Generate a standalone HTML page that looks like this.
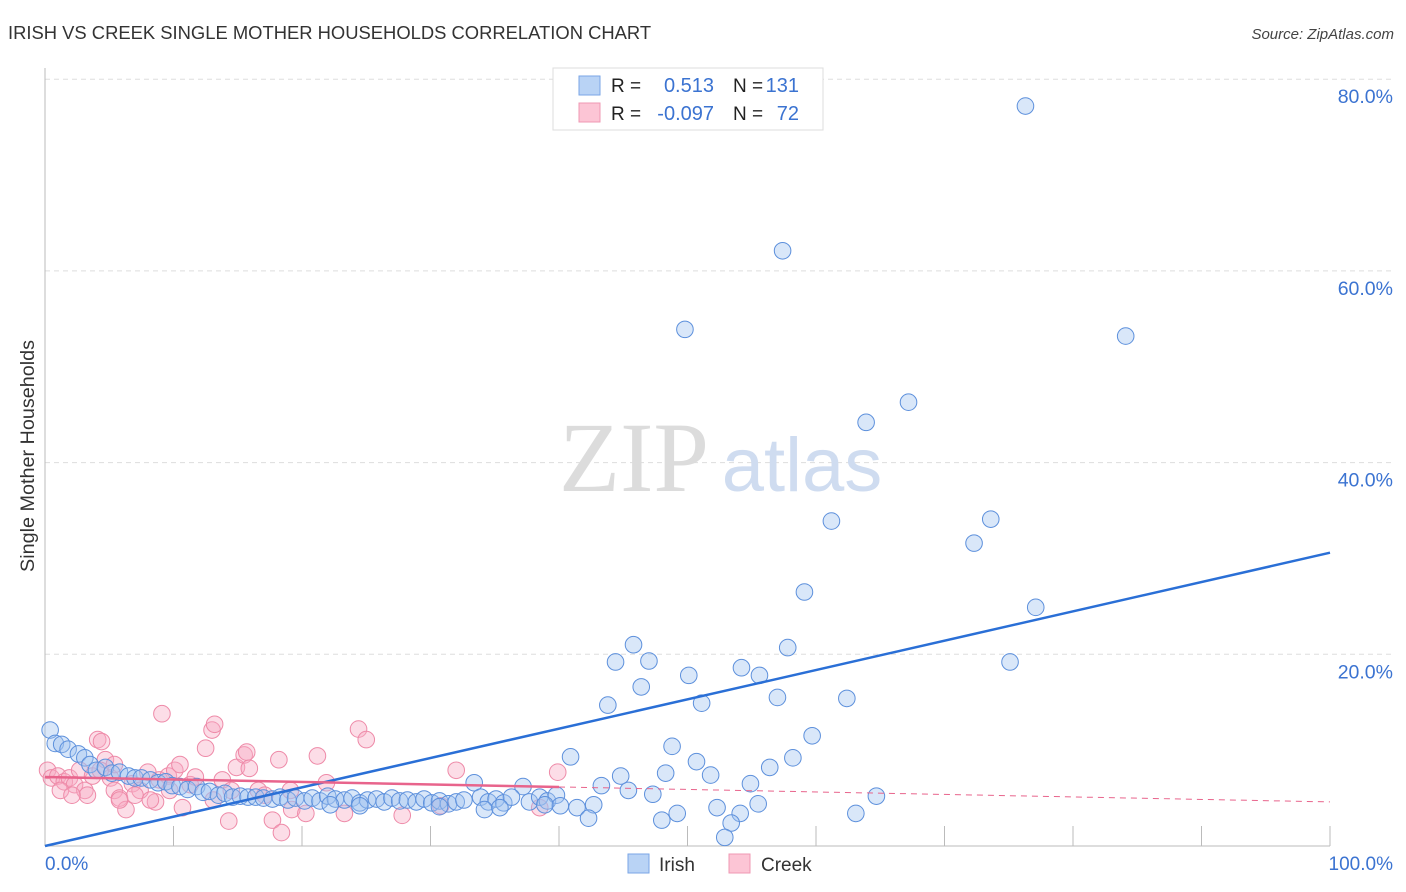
<!DOCTYPE html>
<html><head><meta charset="utf-8"><style>
body{margin:0;background:#fff;font-family:"Liberation Sans",sans-serif}
svg{display:block}
</style></head><body>
<svg id="c" width="1406" height="892"></svg>
<script>
const irishX=[76.3,57.4,49.8,84.1,67.2,63.9,61.2,73.6,72.3,59.1,77.1,45.8,44.4,47.0,57.8,75.1,54.2,50.1,55.6,46.4,43.8,51.1,57.0,62.4,59.7,48.8,40.9,58.2,50.7,56.4,48.3,51.8,44.8,54.9,43.3,45.4,47.3,64.7,55.5,52.3,54.1,42.7,41.4,42.3,48.0,49.2,53.4,52.9,63.1,33.4,37.2,
0.4,0.8,1.3,1.8,2.6,3.1,3.5,4.0,4.7,5.2,5.8,6.5,7.0,7.5,8.2,8.8,9.4,9.9,10.5,11.1,11.8,12.3,12.8,13.5,14.0,14.6,15.2,15.8,16.4,17.0,17.7,18.3,18.9,19.5,20.2,20.8,21.4,22.0,22.6,23.3,23.9,24.5,25.1,25.8,26.4,27.0,27.6,28.2,28.9,29.5,30.1,30.7,31.4,32.0,32.6,33.9,34.5,35.1,35.7,36.3,37.7,38.5,39.1,39.8,40.1,34.2,35.4,24.5,22.2,30.7,38.9];
const irishY=[77.2,62.1,53.9,53.2,46.3,44.2,33.9,34.1,31.6,26.5,24.9,21.0,19.2,19.3,20.7,19.2,18.6,17.8,17.8,16.6,14.7,14.9,15.5,15.4,11.5,10.4,9.3,9.2,8.8,8.2,7.6,7.4,7.3,6.5,6.3,5.8,5.4,5.2,4.4,4.0,3.4,4.3,4.0,2.9,2.7,3.4,2.4,0.9,3.4,6.6,6.2,
12.1,10.7,10.6,10.1,9.6,9.2,8.5,7.9,8.2,7.6,7.7,7.3,7.1,7.1,6.9,6.6,6.7,6.3,6.2,5.9,6.2,5.6,5.7,5.3,5.5,5.1,5.2,5.1,5.1,5.0,4.9,5.1,4.8,5.0,4.7,5.0,4.7,5.2,4.9,4.8,5.0,4.5,4.8,4.9,4.6,5.0,4.7,4.8,4.6,4.9,4.5,4.7,4.4,4.6,4.8,5.1,4.6,4.9,4.5,5.1,4.6,5.1,4.7,5.3,4.2,3.8,4.0,4.2,4.3,4.1,4.3];
const creekX=[0.2,0.5,1.0,1.5,1.9,2.3,2.7,3.1,3.3,3.7,4.1,4.4,4.7,5.1,5.4,5.8,6.3,6.8,7.4,8.0,8.6,8.9,9.1,9.6,10.1,10.5,10.7,11.3,12.5,13.0,13.2,13.8,14.3,14.9,15.5,15.7,15.9,16.6,17.7,18.2,18.4,19.2,20.3,21.2,21.9,23.3,24.4,25.0,27.8,32.0,30.8,39.9,38.5,1.2,2.1,4.3,5.4,7.0,5.8,8.2,9.7,11.7,13.1,14.5,17.1,19.1];
const creekY=[7.9,7.1,7.3,6.7,7.1,6.4,7.9,5.8,5.3,7.3,11.1,10.9,9.0,7.1,5.8,5.0,3.8,6.5,5.8,7.7,4.6,6.9,13.8,7.3,7.9,8.5,4.0,6.4,10.2,12.1,12.7,6.9,2.6,8.2,9.5,9.8,8.1,5.8,2.7,9.0,1.4,3.8,3.4,9.4,6.6,3.4,12.2,11.1,3.2,7.9,4.2,7.7,4.0,5.8,5.3,7.9,8.5,5.3,4.8,4.8,5.8,7.2,4.8,5.8,5.3,5.8];
const irishTrend=[0,30.6];      // y at x=0 and x=100
const creekTrend=[7.2,4.6];     // y at x=0 and x=100
const creekSolidEnd=40;
const yTicks=[20,40,60,80];
const yTickLabels=["20.0%","40.0%","60.0%","80.0%"];

const NS="http://www.w3.org/2000/svg";
const svg=document.getElementById('c');
const X=v=>45+v*12.85, Y=v=>846-v*9.585;
function el(t,a,p){const e=document.createElementNS(NS,t);for(const k in a)e.setAttribute(k,a[k]);(p||svg).appendChild(e);return e;}
function txt(s,a){const e=el('text',a);e.textContent=s;return e;}

let t=txt("IRISH VS CREEK SINGLE MOTHER HOUSEHOLDS CORRELATION CHART",{x:8,y:39,'font-size':18.4,fill:'#333'});


t=txt("Source: ZipAtlas.com",{x:1394,y:39,'font-size':15,fill:'#444','font-style':'italic','text-anchor':'end'});



yTicks.forEach((v,i)=>{
  const g=el('line',{x1:45,x2:1394,y1:Y(v),y2:Y(v),stroke:'#ddd','stroke-dasharray':'5,4'});
  
  
  const l=txt(yTickLabels[i],{x:1393,y:Y(v)+24,'font-size':19.5,fill:'#3b73d1','text-anchor':'end'});
  
  
});
let ax=el('line',{x1:45,x2:45,y1:68,y2:846,stroke:'#bbb'});


ax=el('line',{x1:45,x2:1330,y1:846,y2:846,stroke:'#bbb'});


for(let i=1;i<=10;i++){const tk=el('line',{x1:X(i*10),x2:X(i*10),y1:826,y2:846,stroke:'#bbb'});
  
  }
t=txt("0.0%",{x:45,y:870,'font-size':19,fill:'#3b73d1'});


t=txt("100.0%",{x:1393,y:870,'font-size':19,fill:'#3b73d1','text-anchor':'end'});


t=txt("Single Mother Households",{x:0,y:0,'font-size':19.8,fill:'#333','text-anchor':'middle',transform:'translate(34,456) rotate(-90)'});



const wm=el('g',{});


el('text',{x:634,y:491,'font-size':100,fill:'#dcdcdc','font-family':'Liberation Serif','text-anchor':'middle'},wm).textContent="ZIP";
el('text',{x:802,y:491,'font-size':76,fill:'#cfdcf0','text-anchor':'middle'},wm).textContent="atlas";

creekX.forEach((v,i)=>{const c=el('circle',{cx:X(v),cy:Y(creekY[i]),r:8.3,fill:'rgba(248,170,195,0.4)',stroke:'#ee8aa8','stroke-width':1});
  
  });
irishX.forEach((v,i)=>{const c=el('circle',{cx:X(v),cy:Y(irishY[i]),r:8.3,fill:'rgba(160,195,240,0.4)',stroke:'#5d90dc','stroke-width':1});
  
  });

let ln=el('line',{x1:X(0),y1:Y(irishTrend[0]),x2:X(100),y2:Y(irishTrend[1]),stroke:'#2a6fd6','stroke-width':2.5});


const cy=x=>creekTrend[0]+(creekTrend[1]-creekTrend[0])*x/100;
ln=el('line',{x1:X(0),y1:Y(cy(0)),x2:X(creekSolidEnd),y2:Y(cy(creekSolidEnd)),stroke:'#e8648c','stroke-width':2.5});


ln=el('line',{x1:X(creekSolidEnd),y1:Y(cy(creekSolidEnd)),x2:X(100),y2:Y(cy(100)),stroke:'#e8648c','stroke-width':1,'stroke-dasharray':'6,5'});



const lg=el('g',{});


el('rect',{x:553,y:68,width:270,height:62,fill:'#fff',stroke:'#ddd'},lg);
el('rect',{x:579,y:76,width:21,height:19,fill:'#b9d3f5',stroke:'#7aa6e6'},lg);
el('rect',{x:579,y:103,width:21,height:19,fill:'#fcc5d5',stroke:'#ef98b3'},lg);
[[92,"0.513","131"],[120,"-0.097"," 72"]].forEach(r=>{
  el('text',{x:611,y:r[0],'font-size':19,fill:'#222'},lg).textContent="R =";
  el('text',{x:714,y:r[0],'font-size':20,fill:'#3b73d1','text-anchor':'end'},lg).textContent=r[1];
  el('text',{x:733,y:r[0],'font-size':19,fill:'#222'},lg).textContent="N =";
  el('text',{x:799,y:r[0],'font-size':20,fill:'#3b73d1','text-anchor':'end'},lg).textContent=r[2];
});

const b=el('g',{});


el('rect',{x:628,y:854,width:21,height:19,fill:'#b9d3f5',stroke:'#7aa6e6'},b);
el('text',{x:659,y:871,'font-size':19,fill:'#333'},b).textContent="Irish";
el('rect',{x:729,y:854,width:21,height:19,fill:'#fcc5d5',stroke:'#ef98b3'},b);
el('text',{x:761,y:871,'font-size':19,fill:'#333'},b).textContent="Creek";
</script>
</body></html>
